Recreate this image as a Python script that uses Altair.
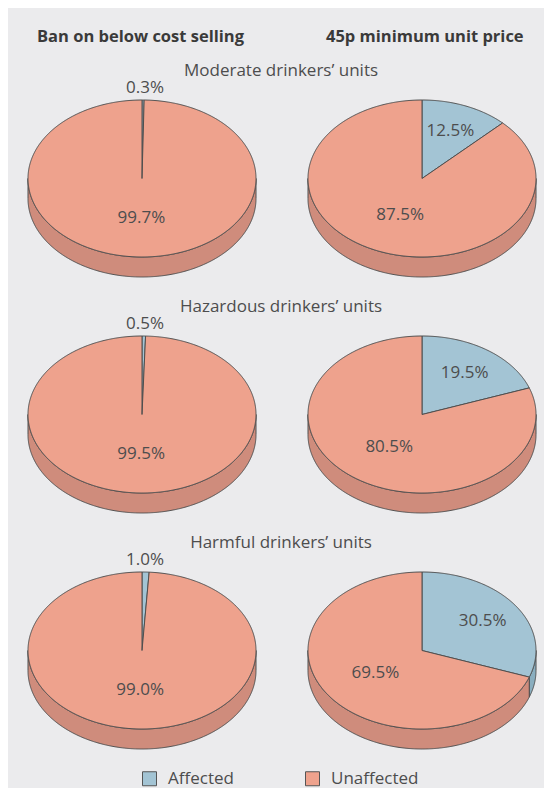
import math
import altair as alt

# ---------------- data ----------------
columns = ["Ban on below cost selling", "45p minimum unit price"]
groups = ["Moderate drinkers\u2019 units", "Hazardous drinkers\u2019 units", "Harmful drinkers\u2019 units"]
categories = ["Affected", "Unaffected"]
affected_ban = [0.3, 0.5, 1.0]
unaffected_ban = [99.7, 99.5, 99.0]
affected_mup = [12.5, 19.5, 30.5]
unaffected_mup = [87.5, 80.5, 69.5]

# ---------------- layout (pixels inside the view) ----------------
OX, OY = 9, 10
COL_X = [142 - OX, 422 - OX]
ROW_Y = [178.5 - OY, 414.5 - OY, 650.5 - OY]
RX, RY, DEPTH = 114, 78.5, 20
FONT = "Open Sans"
TXT = "#4d4d4d"

values = [(affected_ban, unaffected_ban), (affected_mup, unaffected_mup)]


def arc(cx, cy, t0, t1, dy=0.0):
    n = max(2, int(abs(t1 - t0) / (math.pi / 360)) + 2)
    pts = []
    for k in range(n):
        t = t0 + (t1 - t0) * k / (n - 1)
        pts.append([cx + RX * math.sin(t), cy - RY * math.cos(t) + dy])
    return pts


def feature(ring, part):
    ring = ring + [ring[0]]
    return {"type": "Feature", "properties": {"part": part},
            "geometry": {"type": "Polygon", "coordinates": [ring]}}


sides, tops, labels = [], [], []
for c in range(2):
    aff, unaff = values[c]
    for r in range(3):
        cx, cy = COL_X[c], ROW_Y[r]
        shares = [aff[r], unaff[r]]
        start = 0.0
        for cat, v in zip(categories, shares):
            t0 = start
            t1 = start + 2 * math.pi * v / 100.0
            start = t1
            tops.append(feature([[cx, cy]] + arc(cx, cy, t0, t1), cat))
            a, b = max(t0, math.pi / 2), min(t1, 3 * math.pi / 2)
            if a < b:
                sides.append(feature(arc(cx, cy, a, b) + arc(cx, cy, b, a, DEPTH), cat + " side"))
            if v < 5:
                lx, ly = cx + 3, cy - RY - 12
            else:
                f = 0.65 if cat == "Affected" else 0.5
                tm = (t0 + t1) / 2
                lx, ly = cx + f * RX * math.sin(tm), cy - f * RY * math.cos(tm)
            labels.append({"x": lx, "y": ly, "text": f"{v:.1f}%"})

title_rows = [
    {"x": 37 - OX, "y": 37 - OY, "text": columns[0]},
    {"x": 326 - OX, "y": 37 - OY, "text": columns[1]},
]
sub_rows = [{"x": 281 - OX, "y": 71 - OY + 236 * i, "text": g} for i, g in enumerate(groups)]

color = alt.Color(
    "properties.part:N",
    scale=alt.Scale(
        domain=["Affected", "Unaffected", "Affected side", "Unaffected side"],
        range=["#a3c4d4", "#eea28d", "#8aaebf", "#cf8c7c"],
    ),
    legend=alt.Legend(
        values=categories, title=None, orient="none", legendX=132, legendY=760,
        direction="horizontal", symbolType="square", symbolSize=196,
        symbolStrokeColor="#555555", symbolStrokeWidth=1, symbolOpacity=1,
        labelFont=FONT, labelFontSize=17, labelColor=TXT, labelOffset=10,
        columnPadding=69, padding=0,
    ),
)

side_layer = alt.Chart(alt.Data(values=sides)).mark_geoshape(
    stroke="#4f4f4f", strokeWidth=1, fillOpacity=1
).encode(color=color)

top_layer = alt.Chart(alt.Data(values=tops)).mark_geoshape(
    stroke="#4f4f4f", strokeWidth=1, fillOpacity=1
).encode(color=color)

label_layer = alt.Chart(alt.Data(values=labels)).mark_text(
    font=FONT, fontSize=17, color=TXT, baseline="middle", align="center"
).encode(longitude="x:Q", latitude="y:Q", text="text:N")

title_layer = alt.Chart(alt.Data(values=title_rows)).mark_text(
    font=FONT, fontSize=16.5, fontWeight="bold", color="#3a3a3a", baseline="middle", align="left"
).encode(longitude="x:Q", latitude="y:Q", text="text:N")

sub_layer = alt.Chart(alt.Data(values=sub_rows)).mark_text(
    font=FONT, fontSize=17, color=TXT, baseline="middle", align="center"
).encode(longitude="x:Q", latitude="y:Q", text="text:N")

chart = (
    alt.layer(side_layer, top_layer, label_layer, title_layer, sub_layer)
    .project(type="identity", scale=1, translate=[0, 0])
    .properties(width=535, height=778, padding={"left": 1, "top": 2, "right": 0, "bottom": 0},
                background="#ebebed")
    .configure_view(fill="#ebebed", stroke=None)
)

chart.save("out.html", embed_options={"renderer": "svg", "actions": False})
